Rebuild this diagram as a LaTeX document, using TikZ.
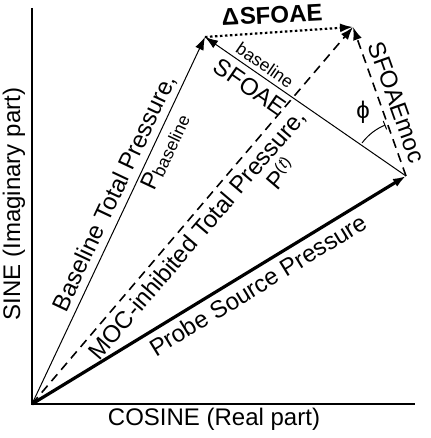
\documentclass[tikz,border=0pt]{standalone}
\usepackage{fontspec}
\setmainfont{Liberation Sans}
\usepackage{tikz}
\usetikzlibrary{arrows.meta}

\tikzset{
  vec/.style={-{Latex[length=13pt,width=9pt]}},
  lbl/.style={font=\fontsize{24}{26}\selectfont, inner sep=0pt},
  small/.style={font=\fontsize{17.5}{19}\selectfont, inner sep=0pt}
}

\begin{document}
\begin{tikzpicture}[x=1pt,y=1pt]
\useasboundingbox (0,0) rectangle (430,438);

% vector end points
\coordinate (O) at (32,34);
\coordinate (ytop) at (32,430);
\coordinate (xend) at (415,34);
\coordinate (P) at (406,262);
\coordinate (B) at (205,401);
\coordinate (M) at (353,411);

% axes
\draw[line width=2pt] (ytop)--(O)--(xend);
\node[lbl,rotate=90] (ylab) at (14,234) {SINE (Imaginary part)};
\node[lbl] (xlab) at (214,19) {COSINE (Real part)};

% pressures
\draw[vec,line width=3.2pt] (O)--(P);
\draw[vec,line width=1pt] (O)--(B);
\draw[vec,line width=1.6pt,dash pattern=on 9pt off 6pt] (O)--(M);

% emissions
\draw[vec,line width=1pt] (P)--(B);
\draw[vec,line width=1.6pt,dash pattern=on 9pt off 6pt] (P)--(M);
\draw[vec,line width=2.2pt,dash pattern=on 2.5pt off 2.5pt] (B)--(M);

% angle
\draw[line width=1pt,-{Bar[width=9pt]}] ([shift={(143:55)}]P) arc[start angle=143,end angle=112,radius=55];
\node[lbl] (phi) at (363,326) {ϕ};

% labels
\node[lbl,font=\fontsize{24}{26}\bfseries\selectfont,rotate=3] (dsf) at (272,423) {Δ\kern1pt SFOAE};
\node[small,rotate=-34.7] (bsl) at (265,373) {baseline};
\node[lbl,rotate=-34.7] (sfb) at (250,351) {SFOAE};
\node[lbl,rotate=-70.4] (sfm) at (397,336) {SFOAEmoc};
\node[lbl,rotate=64.8] (btp) at (115,245) {Baseline Total Pressure,};
\node[lbl,rotate=64.8] (pb) at (165,286) {P\raisebox{-2pt}{\fontsize{17.5}{19}\selectfont baseline}};
\node[lbl,rotate=49.6] (mtp) at (198,203) {MOC-inhibited Total Pressure,};
\node[lbl,rotate=49.6] (pt) at (280,265) {P\raisebox{8pt}{\fontsize{16}{18}\selectfont(\textit{t})}};
\node[lbl,rotate=31.4] (psp) at (258,153) {Probe Source Pressure};
\end{tikzpicture}
\end{document}
